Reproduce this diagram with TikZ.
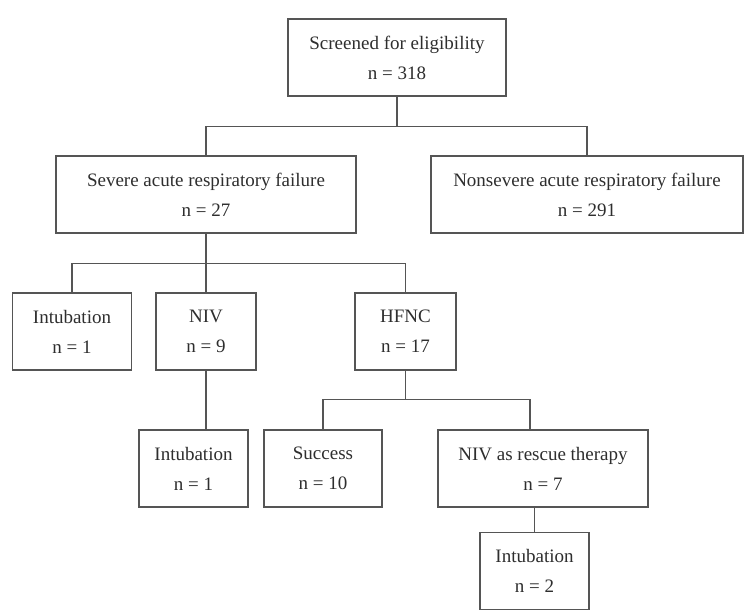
\documentclass[tikz,border=0pt]{standalone}
\usepackage{fontspec}
\setmainfont{Liberation Serif}
\usetikzlibrary{calc}
\definecolor{linec}{HTML}{555555}
\definecolor{textc}{HTML}{2E2E2E}
\tikzset{
  box/.style={draw=linec, line width=1.3pt, rectangle, inner sep=0pt,
    minimum height=77pt, align=center, text=textc,
    font=\fontsize{19}{30}\selectfont},
  link/.style={draw=linec, line width=1.3pt}
}
\begin{document}
\begin{tikzpicture}[x=1pt,y=-1pt]
\useasboundingbox[fill=white] (0,0) rectangle (745,614);
% level 0
\node[box, minimum width=218pt] (top) at (397,57.5) {Screened for eligibility\\n = 318};
% level 1
\node[box, minimum width=300pt] (severe) at (206,194.5) {Severe acute respiratory failure\\n = 27};
\node[box, minimum width=312pt] (nonsevere) at (587,194.5) {Nonsevere acute respiratory failure\\n = 291};
% level 2
\node[box, minimum width=119pt] (intubA) at (72,331.5) {Intubation\\n = 1};
\node[box, minimum width=100pt] (niv) at (206,331.5) {NIV\\n = 9};
\node[box, minimum width=101pt] (hfnc) at (405.5,331.5) {HFNC\\n = 17};
% level 3
\node[box, minimum width=109pt] (intubB) at (193.5,468.5) {Intubation\\n = 1};
\node[box, minimum width=118pt] (success) at (323,468.5) {Success\\n = 10};
\node[box, minimum width=210pt] (rescue) at (543,468.5) {NIV as rescue therapy\\n = 7};
% level 4
\node[box, minimum width=109pt] (intubC) at (534.5,571) {Intubation\\n = 2};
% connectors
\draw[link] (top.south) -- ++(0,30) coordinate (busA);
\draw[link] (severe.north) |- (busA) -| (nonsevere.north);
\draw[link] (severe.south) -- ++(0,30) coordinate (busB);
\draw[link] (intubA.north) |- (busB) -| (hfnc.north);
\draw[link] (busB) -- (niv.north);
\draw[link] (niv.south) -- (niv.south |- intubB.north);
\draw[link] (hfnc.south) -- ++(0,29) coordinate (busC);
\coordinate (rescueIn) at ($(rescue.north)+(-13,0)$);
\draw[link] (success.north) |- (busC) -| (rescueIn);
\draw[link] (intubC.north) -- (intubC.north |- rescue.south);
\end{tikzpicture}
\end{document}
